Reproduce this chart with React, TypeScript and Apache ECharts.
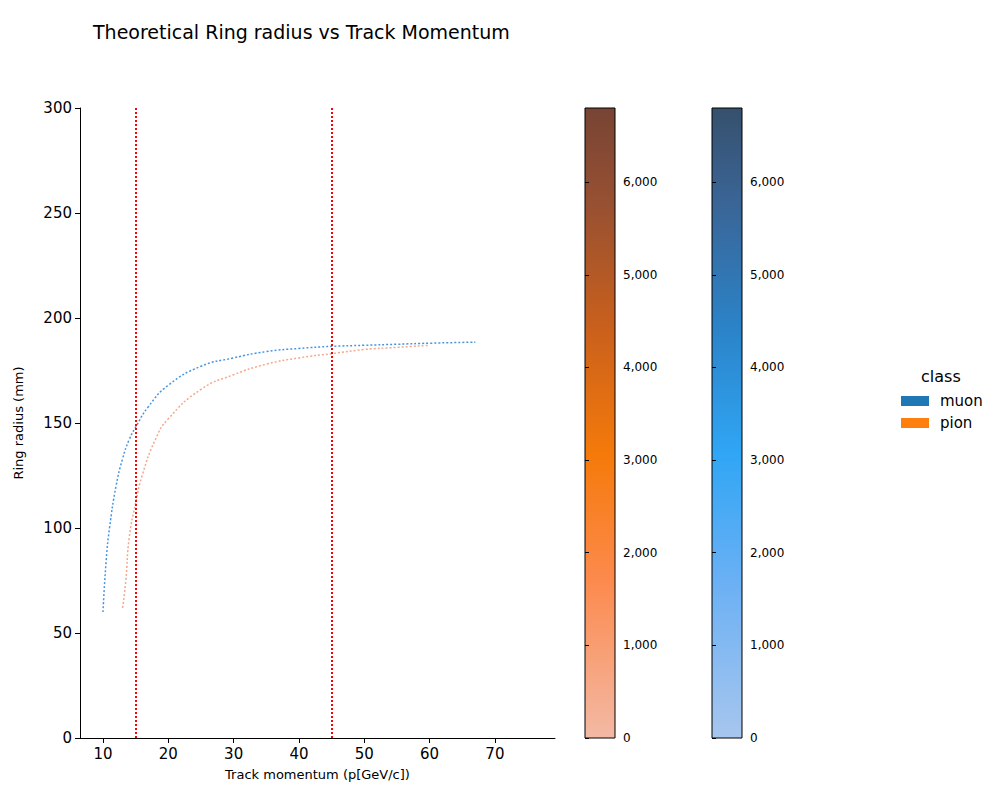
import React, { useEffect, useRef } from "react";
import * as echarts from "echarts";

const muonP = [10, 10.5, 11, 12, 13, 14, 15, 17, 20, 25, 30, 35, 40, 45, 50, 55, 60, 67];
const muonR = [60, 85, 100, 120, 133, 142, 148, 158, 168, 177, 181, 184, 185.5, 186.5, 187, 187.5, 188, 188.5];
const pionP = [13, 13.5, 14, 15, 16, 18, 20, 25, 30, 35, 40, 45, 50, 55, 60];
const pionR = [62, 75, 95, 112, 125, 142, 152, 166, 173, 178, 181, 183, 185, 186, 187];
const cutLines = [15, 45];
const xTicks = [10, 20, 30, 40, 50, 60, 70];
const cbarTicks = [0, 1000, 2000, 3000, 4000, 5000, 6000];

export default function App() {
  const ref = useRef<HTMLDivElement>(null);
  useEffect(() => {
    const chart = echarts.init(ref.current!, null, { renderer: "svg" });
    const font = "DejaVu Sans";
    const o = 8;
    const cbGrid = (left: number) => ({ left: left - o, width: 30, top: 108 - o, height: 630, show: true, borderColor: "#000", borderWidth: 1 });
    const cbY = (gi: number) => ({
      gridIndex: gi, position: "right", min: 0, max: 6800,
      axisLine: { show: false }, splitLine: { show: false },
      axisTick: { show: true, length: 4, lineStyle: { color: "#000" }, customValues: cbarTicks },
      axisLabel: { color: "#000", fontSize: 12, fontFamily: font, customValues: cbarTicks },
    });
    const cbX = (gi: number) => ({ gridIndex: gi, show: false, min: 0, max: 1 });
    chart.setOption({
      animation: false,
      textStyle: { fontFamily: font },
      title: { text: "Theoretical Ring radius vs Track Momentum", left: 88 - o, top: 17 - o, textStyle: { fontSize: 19, fontWeight: "normal", color: "#000", fontFamily: font } },
      grid: [
        { left: 80 - o, width: 475, top: 108 - o, height: 630 },
        cbGrid(585),
        cbGrid(712),
      ],
      xAxis: [
        {
          gridIndex: 0, type: "value", min: 6.48, max: 79.2,
          name: "Track momentum (p[GeV/c])", nameLocation: "middle", nameGap: 30,
          nameTextStyle: { fontSize: 13, color: "#000" },
          axisLine: { lineStyle: { color: "#000" } },
          axisTick: { lineStyle: { color: "#000" }, customValues: xTicks },
          axisLabel: { color: "#000", fontSize: 15, customValues: xTicks },
          splitLine: { show: false },
        },
        cbX(1), cbX(2),
      ],
      yAxis: [
        {
          gridIndex: 0, type: "value", min: 0, max: 300, interval: 50,
          name: "Ring radius (mm)", nameLocation: "middle", nameGap: 55,
          nameTextStyle: { fontSize: 13, color: "#000" },
          axisLine: { show: true, lineStyle: { color: "#000" } }, axisTick: { show: true, lineStyle: { color: "#000" } },
          axisLabel: { color: "#000", fontSize: 15 }, splitLine: { show: false },
        },
        cbY(1), cbY(2),
      ],
      series: [
        {
          type: "line", name: "muon", data: muonP.map((p, i) => [p, muonR[i]]), smooth: true, symbol: "none",
          lineStyle: { color: "#4a95e0", width: 1.5, type: [2, 2] },
          markLine: {
            symbol: "none", silent: true, label: { show: false },
            lineStyle: { color: "#ff0000", type: "dotted", width: 2 },
            data: cutLines.map((x) => ({ xAxis: x })),
          },
        },
        {
          type: "line", name: "pion", data: pionP.map((p, i) => [p, pionR[i]]), smooth: true, symbol: "none",
          lineStyle: { color: "#f4a88a", width: 1.5, type: [2, 2] },
        },
      ],
      graphic: [
        {
          type: "rect", shape: { x: 585 - o, y: 108 - o, width: 30, height: 630 }, z: -1,
          style: { fill: new echarts.graphic.LinearGradient(0, 1, 0, 0, [
            { offset: 0, color: "#f3b9a5" }, { offset: 0.25, color: "#fc8a4d" }, { offset: 0.45, color: "#f57a0a" },
            { offset: 0.65, color: "#c9601c" }, { offset: 0.85, color: "#975032" }, { offset: 1, color: "#774434" },
          ]) },
        },
        {
          type: "rect", shape: { x: 712 - o, y: 108 - o, width: 30, height: 630 }, z: -1,
          style: { fill: new echarts.graphic.LinearGradient(0, 1, 0, 0, [
            { offset: 0, color: "#a7c6ee" }, { offset: 0.25, color: "#6ab0f4" }, { offset: 0.45, color: "#30a6f5" },
            { offset: 0.65, color: "#2b83c8" }, { offset: 0.85, color: "#3a6596" }, { offset: 1, color: "#36506d" },
          ]) },
        },
        { type: "text", left: 921 - o, top: 368 - o, style: { text: "class", fontSize: 16, fill: "#000", fontFamily: font } },
        { type: "rect", shape: { x: 901 - o, y: 396 - o, width: 28, height: 10 }, style: { fill: "#1f77b4" } },
        { type: "text", left: 940 - o, top: 393 - o, style: { text: "muon", fontSize: 15, fill: "#000", fontFamily: font } },
        { type: "rect", shape: { x: 901 - o, y: 418 - o, width: 28, height: 10 }, style: { fill: "#ff7f0e" } },
        { type: "text", left: 940 - o, top: 415 - o, style: { text: "pion", fontSize: 15, fill: "#000", fontFamily: font } },
      ],
    });
    return () => chart.dispose();
  }, []);
  return <div ref={ref} style={{ width: 1000, height: 800 }} />;
}
